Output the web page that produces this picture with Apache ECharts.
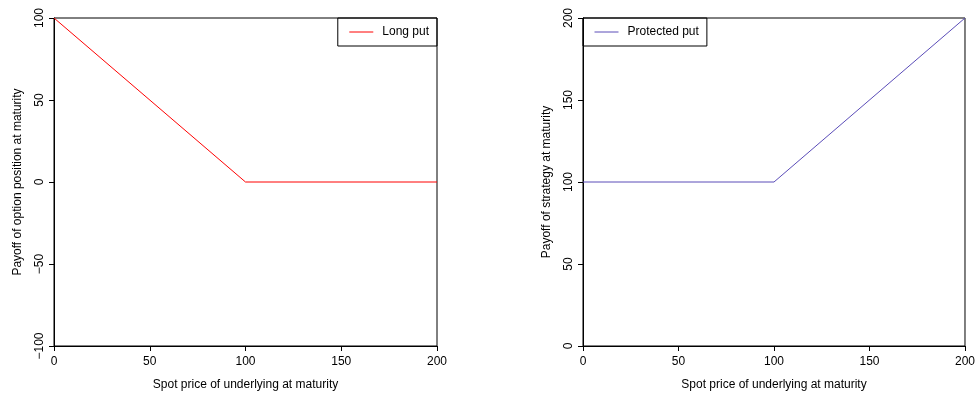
<!DOCTYPE html>
<html>
<head>
<meta charset="utf-8">
<script src="https://cdn.jsdelivr.net/npm/echarts@6/dist/echarts.min.js"></script>
<style>
  html, body { margin: 0; padding: 0; background: #fff; }
  #chart { width: 978px; height: 396px; }
</style>
</head>
<body>
<div id="chart"></div>
<script>
// payoff data at maturity, strike = 100
const spot = [0, 100, 200];
const longPut = [100, 0, 0];
const protectedPut = [100, 100, 200];

const xTicks = [0, 50, 100, 150, 200];
const leftYTicks = [-100, -50, 0, 50, 100];
const rightYTicks = [0, 50, 100, 150, 200];

const font = 'Liberation Sans, Arial, sans-serif';
const pairs = (xs, ys) => xs.map((x, i) => [x, ys[i]]);

function xAxis(idx) {
    return {
        type: 'value',
        gridIndex: idx,
        min: xTicks[0],
        max: xTicks[xTicks.length - 1],
        interval: 50,
        name: 'Spot price of underlying at maturity',
        nameLocation: 'middle',
        nameGap: 33,
        nameTextStyle: {color: '#000', fontSize: 12, fontFamily: font},
        axisLine: {show: true, onZero: false, lineStyle: {color: '#000', width: 1}},
        axisTick: {show: true, length: 5, lineStyle: {color: '#000'}},
        axisLabel: {color: '#000', fontSize: 12, fontFamily: font, margin: 10},
        splitLine: {show: false}
    };
}

function yAxis(idx, ticks, name) {
    return {
        type: 'value',
        gridIndex: idx,
        min: ticks[0],
        max: ticks[ticks.length - 1],
        interval: 50,
        name: name,
        nameLocation: 'middle',
        nameGap: 30,
        nameTextStyle: {color: '#000', fontSize: 12, fontFamily: font},
        axisLine: {show: true, onZero: false, lineStyle: {color: '#000', width: 1}},
        axisTick: {show: true, length: 5, lineStyle: {color: '#000'}},
        axisLabel: {
            color: '#000', fontSize: 12, fontFamily: font, rotate: 90, margin: 8,
            formatter: v => String(v).replace('-', '\u2212')
        },
        splitLine: {show: false}
    };
}

const legendStyle = {
    orient: 'vertical',
    top: 18,
    borderColor: '#000',
    borderWidth: 1,
    borderRadius: 0,
    padding: [8, 8, 8, 11],
    itemWidth: 24,
    itemHeight: 14,
    itemGap: 0,
    itemStyle: {opacity: 0},
    lineStyle: {width: 1},
    textStyle: {color: '#000', fontSize: 12, fontFamily: font, padding: [0, 0, 0, 4]}
};

const chart = echarts.init(document.getElementById('chart'));
chart.setOption({
    backgroundColor: '#fff',
    animation: false,
    grid: [
        {left: 54, right: 541, top: 18, bottom: 43, show: true, borderColor: '#000', borderWidth: 1},
        {left: 583, right: 11, top: 18, bottom: 43, show: true, borderColor: '#000', borderWidth: 1}
    ],
    xAxis: [xAxis(0), xAxis(1)],
    yAxis: [
        yAxis(0, leftYTicks, 'Payoff of option position at maturity'),
        yAxis(1, rightYTicks, 'Payoff of strategy at maturity')
    ],
    legend: [
        Object.assign({}, legendStyle, {data: ['Long put'], right: 541}),
        Object.assign({}, legendStyle, {data: ['Protected put'], left: 583})
    ],
    series: [
        {
            name: 'Long put',
            type: 'line',
            xAxisIndex: 0,
            yAxisIndex: 0,
            data: pairs(spot, longPut),
            symbol: 'none',
            color: '#ff0000',
            lineStyle: {width: 1, color: '#ff0000'}
        },
        {
            name: 'Protected put',
            type: 'line',
            xAxisIndex: 1,
            yAxisIndex: 1,
            data: pairs(spot, protectedPut),
            symbol: 'none',
            color: '#5a4cb8',
            lineStyle: {width: 1, color: '#5a4cb8'}
        }
    ]
});
</script>
</body>
</html>
